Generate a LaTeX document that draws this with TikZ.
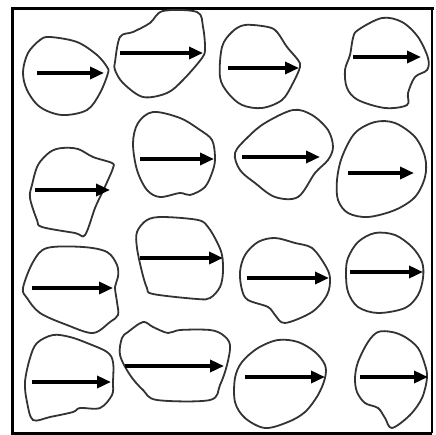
\documentclass[tikz,border=0pt]{standalone}
\usetikzlibrary{arrows.meta}
\begin{document}
\begin{tikzpicture}[x=1pt,y=-1pt,
  grain/.style={draw=black!80,line width=1.8pt,smooth cycle,tension=0.55},
  vec/.style={line width=3.4pt,-{Triangle[length=14pt,width=12pt]}}]
\useasboundingbox (0,0) rectangle (435,435);
\fill[white] (0,0) rectangle (435,435);
% frame
\draw[line width=3pt,line cap=rect] (12,433) -- (12,9) -- (432,9);
\draw[line width=3pt] (12,433) -- (432,433);
\draw[line width=1.6pt] (432,9) -- (432,433);
% row 1
\draw[grain] plot coordinates {(50,37) (77,42) (97,55) (107,67) (108,73) (100,93) (87,110) (62,115) (40,107) (27,90) (23,72) (28,53) (40,40)};
\draw[vec] (37,73) -- (104,73);
\draw[grain] plot coordinates {(115,62) (120,37) (133,32) (150,23) (163,11) (197,12) (203,27) (205,48) (202,58) (183,80) (167,93) (143,97) (123,83) (115,70)};
\draw[vec] (120,53) -- (203,53);
\draw[grain] plot coordinates {(245,25) (268,27) (277,32) (287,47) (298,60) (300,67) (293,83) (282,100) (262,108) (242,105) (228,93) (220,77) (222,47) (232,32)};
\draw[vec] (228,68) -- (299,68);
\draw[grain] plot coordinates {(358,30) (382,18) (402,22) (418,37) (428,58) (427,70) (415,77) (408,93) (407,105) (385,108) (358,100) (347,88) (345,70) (350,55) (353,38)};
\draw[vec] (353,57) -- (421,57);
% row 2
\draw[grain] plot coordinates {(50,152) (62,148) (78,149) (93,157) (112,163) (113,168) (108,180) (102,193) (95,208) (85,235) (75,233) (42,227) (37,220) (30,198) (32,185) (38,165)};
\draw[vec] (35,190) -- (110,190);
\draw[grain] plot coordinates {(153,112) (180,118) (200,130) (212,140) (215,157) (213,170) (205,187) (190,195) (180,193) (160,197) (147,190) (137,170) (133,143) (138,123)};
\draw[vec] (140,159) -- (214,159);
\draw[grain] plot coordinates {(235,153) (248,137) (265,123) (293,110) (312,115) (328,130) (333,147) (328,160) (315,173) (298,197) (275,197) (255,183) (240,170)};
\draw[vec] (242,157) -- (320,157);
\draw[grain] plot coordinates {(355,133) (375,122) (395,123) (415,137) (425,157) (425,177) (415,197) (395,210) (368,217) (348,213) (338,200) (337,180) (342,157)};
\draw[vec] (348,173) -- (414,173);
% row 3
\draw[grain] plot coordinates {(23,288) (33,262) (47,248) (83,247) (107,252) (117,265) (118,277) (115,287) (117,302) (118,315) (110,322) (93,333) (67,325) (40,313) (27,298)};
\draw[vec] (32,288) -- (113,288);
\draw[grain] plot coordinates {(137,232) (147,220) (163,217) (198,220) (208,227) (217,242) (222,255) (223,272) (220,287) (210,298) (197,299) (153,294) (147,288) (142,272) (137,248)};
\draw[vec] (140,258) -- (223,258);
\draw[grain] plot coordinates {(245,255) (258,242) (275,238) (295,243) (312,248) (325,265) (330,278) (327,295) (312,312) (285,323) (275,315) (268,307) (248,300) (242,290) (240,272)};
\draw[vec] (247,278) -- (329,278);
\draw[grain] plot coordinates {(348,258) (358,242) (375,233) (395,235) (412,247) (422,262) (423,278) (418,295) (405,308) (378,313) (358,307) (348,292) (346,273)};
\draw[vec] (350,272) -- (423,272);
% row 4
\draw[grain] plot coordinates {(37,343) (53,335) (70,337) (87,343) (107,352) (113,362) (113,382) (112,395) (100,408) (80,408) (73,412) (50,417) (33,420) (27,402) (25,382) (30,358)};
\draw[vec] (32,382) -- (111,382);
\draw[grain] plot coordinates {(122,338) (128,332) (143,322) (153,327) (168,333) (180,330) (210,330) (223,335) (230,345) (227,365) (220,385) (210,400) (157,400) (143,390) (130,375) (120,355)};
\draw[vec] (125,366) -- (224,366);
\draw[grain] plot coordinates {(235,378) (242,362) (258,348) (278,340) (298,342) (315,352) (325,365) (325,378) (318,395) (305,412) (288,422) (265,428) (245,418) (235,402)};
\draw[vec] (245,377) -- (325,377);
\draw[grain] plot coordinates {(358,362) (368,342) (378,332) (392,332) (405,337) (418,348) (425,365) (427,378) (422,398) (410,415) (392,428) (385,418) (378,408) (365,403) (357,392) (355,378)};
\draw[vec] (360,377) -- (428,377);
\end{tikzpicture}
\end{document}
